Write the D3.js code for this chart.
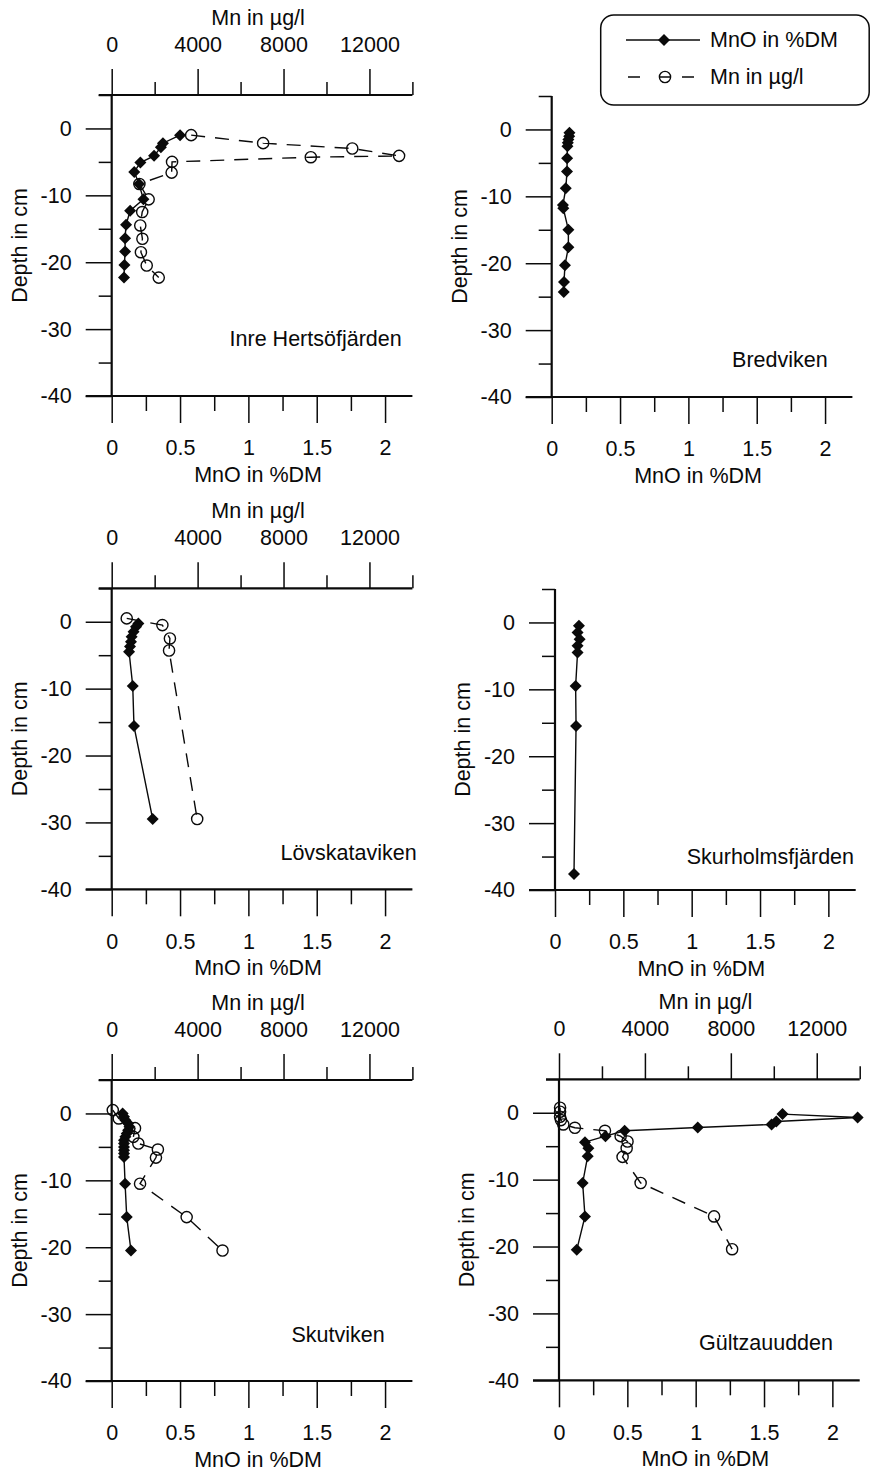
<!DOCTYPE html>
<html>
<head>
<meta charset="utf-8">
<script src="https://cdn.jsdelivr.net/npm/d3@7"></script>
<style>
body { margin: 0; background: #fff; }
text { font-family: "Liberation Sans", Arial, sans-serif; font-size: 21.5px; fill: #0a0a0a; }
</style>
</head>
<body>
<svg id="chart" width="871" height="1471"></svg>
<script>
// tick values
var mnoTicks = [0, 0.5, 1, 1.5, 2];
var mnoMinor = [0.25, 0.75, 1.25, 1.75];
var mnTicks = [0, 4000, 8000, 12000];
var mnMinor = [2000, 6000, 10000, 14000];
var depthTicks = [0, -10, -20, -30, -40];
var depthMinor = [5, -5, -15, -25, -35];

// Inre Hertsöfjärden
var inreDepthMnO = [-1.0, -2.2, -2.8, -4.1, -5.1, -6.5, -8.3, -10.6, -12.3, -14.4, -16.4, -18.4, -20.4, -22.3];
var inreMnO      = [0.50, 0.375, 0.36, 0.31, 0.21, 0.165, 0.20, 0.232, 0.135, 0.105, 0.098, 0.098, 0.093, 0.09];
var inreDepthMn  = [-1.0, -2.2, -3.0, -4.1, -4.3, -5.0, -6.6, -8.3, -10.6, -12.5, -14.5, -16.5, -18.5, -20.5, -22.3];
var inreMn       = [3700, 7050, 11200, 13380, 9270, 2810, 2790, 1290, 1720, 1420, 1330, 1430, 1360, 1630, 2190];

// Bredviken
var bredDepthMnO = [-0.5, -1.0, -1.5, -2.0, -2.5, -4.3, -6.3, -8.8, -11.3, -11.8, -15.0, -17.6, -20.3, -22.8, -24.3];
var bredMnO      = [0.13, 0.128, 0.122, 0.118, 0.115, 0.113, 0.112, 0.103, 0.082, 0.085, 0.122, 0.122, 0.097, 0.09, 0.088];

// Lövskataviken
var lovDepthMnO = [-0.25, -0.75, -1.5, -2.25, -3.0, -3.7, -4.5, -9.6, -15.6, -29.5];
var lovMnO      = [0.195, 0.178, 0.16, 0.146, 0.141, 0.134, 0.127, 0.154, 0.163, 0.30];
var lovDepthMn  = [0.5, -0.5, -2.5, -4.3, -29.5];
var lovMn       = [700, 2360, 2710, 2670, 3980];

// Skurholmsfjärden
var skurDepthMnO = [-0.5, -1.5, -2.5, -3.5, -4.5, -9.5, -15.5, -37.6];
var skurMnO      = [0.175, 0.165, 0.18, 0.165, 0.165, 0.151, 0.154, 0.139];

// Skutviken
var skutDepthMnO = [0, -0.5, -1.0, -1.5, -2.0, -2.5, -3.0, -3.5, -4.0, -4.5, -5.0, -5.5, -6.0, -6.5, -10.5, -15.5, -20.5];
var skutMnO      = [0.08, 0.09, 0.10, 0.12, 0.13, 0.12, 0.11, 0.10, 0.09, 0.09, 0.09, 0.09, 0.09, 0.09, 0.098, 0.11, 0.141];
var skutDepthMn  = [0.5, -0.75, -2.2, -3.5, -4.5, -5.4, -6.6, -10.5, -15.5, -20.5];
var skutMn       = [50, 330, 1085, 1010, 1240, 2150, 2060, 1320, 3490, 5160];

// Gültzauudden
var gultDepthMnO = [-0.2, -0.7, -1.3, -1.75, -2.2, -2.7, -3.5, -4.4, -5.3, -6.5, -10.5, -15.5, -20.5];
var gultMnO      = [1.635, 2.185, 1.59, 1.555, 1.015, 0.48, 0.34, 0.19, 0.215, 0.21, 0.173, 0.19, 0.13];
var gultDepthMn  = [0.75, 0.15, -0.6, -1.1, -1.75, -2.25, -2.7, -3.5, -4.3, -5.3, -6.6, -10.5, -15.5, -20.4];
var gultMn       = [50, 50, 50, 90, 200, 740, 2140, 2870, 3190, 3150, 2960, 3800, 7220, 8060];

const W = 300.7, H = 301;
const INK = "#0a0a0a";

const panels = [
	{name: "Inre Hertsöfjärden", x0: 111.7, y0: 95, top: true, mnoD: inreDepthMnO, mno: inreMnO, mnD: inreDepthMn, mn: inreMn, lx: 290, ly: 251},
	{name: "Bredviken", x0: 551.7, y0: 96, top: false, mnoD: bredDepthMnO, mno: bredMnO, lx: 276, ly: 271},
	{name: "Lövskataviken", x0: 111.7, y0: 588.3, top: true, mnoD: lovDepthMnO, mno: lovMnO, mnD: lovDepthMn, mn: lovMn, lx: 305, ly: 272},
	{name: "Skurholmsfjärden", x0: 555, y0: 589, top: false, mnoD: skurDepthMnO, mno: skurMnO, lx: 299, ly: 275},
	{name: "Skutviken", x0: 111.7, y0: 1080, top: true, mnoD: skutDepthMnO, mno: skutMnO, mnD: skutDepthMn, mn: skutMn, lx: 273, ly: 262},
	{name: "Gültzauudden", x0: 559, y0: 1079.3, top: true, mnoD: gultDepthMnO, mno: gultMnO, mnD: gultDepthMn, mn: gultMn, lx: 274, ly: 271}
];

const svg = d3.select("#chart");
svg.append("rect").attr("width", 871).attr("height", 1471).attr("fill", "#fff");

const diamond = "M0,-6L6,0L0,6L-6,0Z";

panels.forEach(drawPanel);
drawLegend();

function styleAxis(sel) {
	sel.select(".domain").remove();
	sel.selectAll("line").attr("stroke", INK).attr("stroke-width", 1.5);
}

function drawPanel(p) {
	let x = d3.scaleLinear().domain([0, 2.2]).range([p.x0, p.x0 + W]);
	let xm = d3.scaleLinear().domain([0, 14000]).range([p.x0, p.x0 + W]);
	let y = d3.scaleLinear().domain([5, -40]).range([p.y0, p.y0 + H]);
	let g = svg.append("g");
	let yb = p.y0 + H;

	// bottom axis: MnO
	g.append("g").attr("transform", `translate(0,${yb})`)
		.call(d3.axisBottom(x).tickValues(mnoMinor).tickSize(15).tickFormat(""))
		.call(styleAxis);
	g.append("g").attr("transform", `translate(0,${yb})`)
		.call(d3.axisBottom(x).tickValues(mnoTicks).tickSize(27).tickPadding(17).tickFormat(d => String(d)))
		.call(styleAxis);

	// left axis: depth
	g.append("g").attr("transform", `translate(${p.x0},0)`)
		.call(d3.axisLeft(y).tickValues(depthMinor).tickSize(13).tickFormat(""))
		.call(styleAxis);
	g.append("g").attr("transform", `translate(${p.x0},0)`)
		.call(d3.axisLeft(y).tickValues(depthTicks).tickSize(26).tickPadding(14).tickFormat(d => String(d)))
		.call(styleAxis);

	g.append("line").attr("x1", p.x0 - 26).attr("x2", x(2.2)).attr("y1", yb).attr("y2", yb)
		.attr("stroke", INK).attr("stroke-width", 2.2);
	g.append("line").attr("x1", p.x0).attr("x2", p.x0).attr("y1", p.y0).attr("y2", yb)
		.attr("stroke", INK).attr("stroke-width", 2.2);

	g.append("text").attr("x", (p.x0 + x(2.2)) / 2 - 4).attr("y", yb + 86)
		.attr("text-anchor", "middle").text("MnO in %DM");

	g.append("text")
		.attr("transform", `translate(${p.x0 - 85},${p.y0 + H / 2}) rotate(-90)`)
		.attr("text-anchor", "middle").text("Depth in cm");

	if (p.top) {
		g.append("g").attr("transform", `translate(0,${p.y0})`)
			.call(d3.axisTop(xm).tickValues(mnMinor).tickSize(13).tickFormat(""))
			.call(styleAxis);
		g.append("g").attr("transform", `translate(0,${p.y0})`)
			.call(d3.axisTop(xm).tickValues(mnTicks).tickSize(26).tickPadding(17).tickFormat(d3.format("d")))
			.call(styleAxis);
		g.append("line").attr("x1", p.x0 - 13).attr("x2", xm(14000)).attr("y1", p.y0).attr("y2", p.y0)
			.attr("stroke", INK).attr("stroke-width", 2.2);
		g.append("text").attr("x", (p.x0 + xm(14000)) / 2 - 4).attr("y", p.y0 - 70)
			.attr("text-anchor", "middle").text("Mn in µg/l");
	}

	g.append("text").attr("x", p.x0 + p.lx).attr("y", p.y0 + p.ly)
		.attr("text-anchor", "end").text(p.name);

	// MnO series
	let mnoData = d3.zip(p.mnoD, p.mno);
	g.append("path").datum(mnoData)
		.attr("fill", "none").attr("stroke", INK).attr("stroke-width", 1.4)
		.attr("d", d3.line().x(d => x(d[1])).y(d => y(d[0])));
	g.selectAll(".dia").data(mnoData).join("path")
		.attr("class", "dia")
		.attr("d", diamond)
		.attr("transform", d => `translate(${x(d[1])},${y(d[0])})`)
		.attr("fill", INK);

	// Mn series
	if (p.mn) {
		let mnData = d3.zip(p.mnD, p.mn);
		g.append("path").datum(mnData)
			.attr("fill", "none").attr("stroke", INK).attr("stroke-width", 1.4)
			.attr("stroke-dasharray", "14,10")
			.attr("d", d3.line().x(d => xm(d[1])).y(d => y(d[0])));
		g.selectAll(".circ").data(mnData).join("circle")
			.attr("class", "circ")
			.attr("cx", d => xm(d[1])).attr("cy", d => y(d[0])).attr("r", 5.6)
			.attr("fill", "none").attr("stroke", INK).attr("stroke-width", 1.4);
	}
}

function drawLegend() {
	let lg = svg.append("g");
	lg.append("rect").attr("x", 600.7).attr("y", 15).attr("width", 268.5).attr("height", 90)
		.attr("rx", 13).attr("fill", "#fff").attr("stroke", INK).attr("stroke-width", 1.5);

	lg.append("line").attr("x1", 626).attr("x2", 700).attr("y1", 40).attr("y2", 40)
		.attr("stroke", INK).attr("stroke-width", 1.4);
	lg.append("path").attr("d", diamond).attr("transform", "translate(664,40)").attr("fill", INK);
	lg.append("text").attr("x", 710).attr("y", 47).text("MnO in %DM");

	lg.append("line").attr("x1", 628).attr("x2", 694).attr("y1", 77).attr("y2", 77)
		.attr("stroke", INK).attr("stroke-width", 1.4).attr("stroke-dasharray", "12,19,12,11,12");
	lg.append("circle").attr("cx", 665).attr("cy", 77).attr("r", 5.6)
		.attr("fill", "none").attr("stroke", INK).attr("stroke-width", 1.4);
	lg.append("text").attr("x", 710).attr("y", 84).text("Mn in µg/l");
}
</script>
</body>
</html>
